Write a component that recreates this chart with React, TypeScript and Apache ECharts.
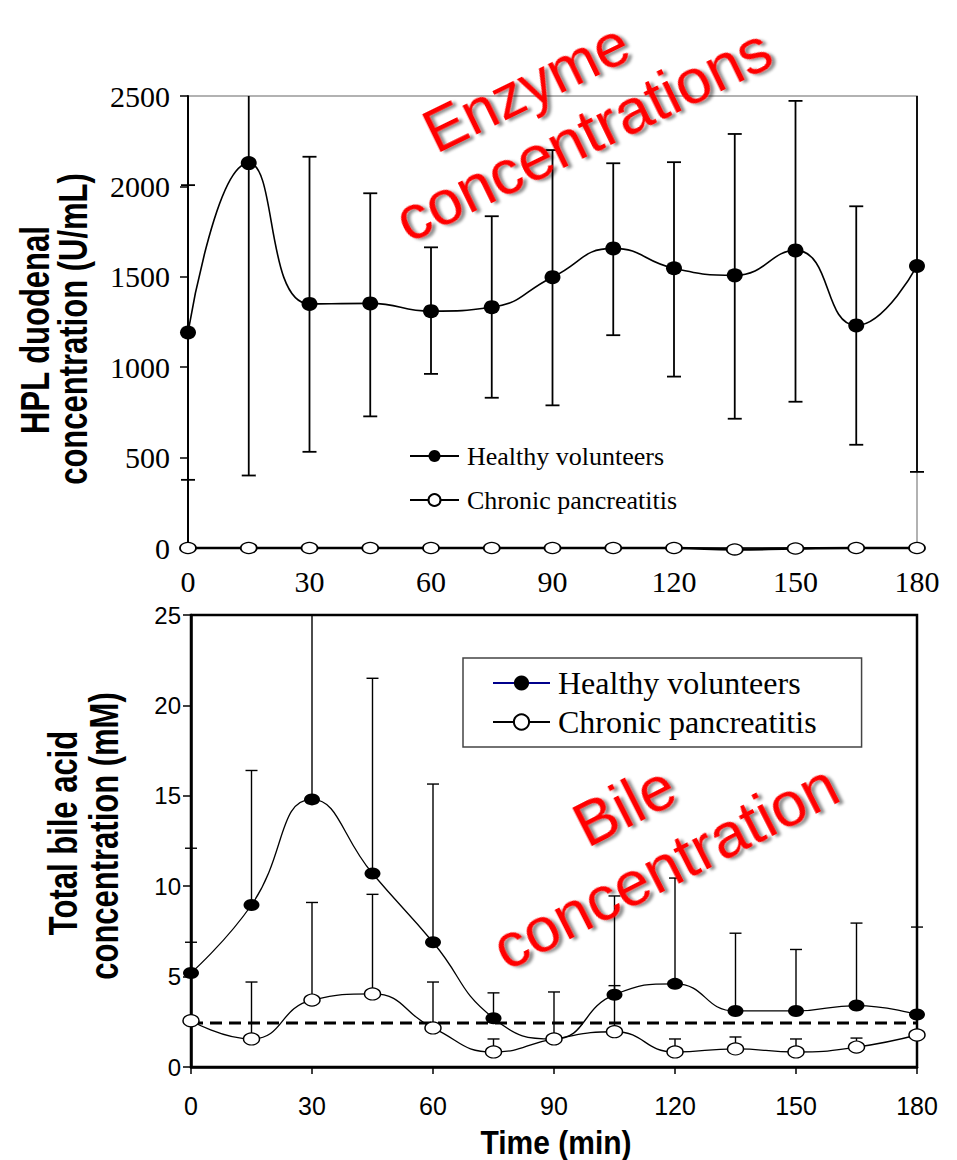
import { useEffect, useRef } from "react";
import * as echarts from "echarts";

// ---------- data ----------
const TIME = [0, 15, 30, 45, 60, 75, 90, 105, 120, 135, 150, 165, 180];

const HPL_MAX = 2500;
const HPL_HEALTHY = [1192, 2129, 1350, 1353, 1310, 1332, 1498, 1657, 1547, 1508, 1646, 1231, 1560];
const HPL_HEALTHY_LOW = [377, 401, 532, 728, 963, 831, 789, 1177, 948, 715, 809, 571, 421];
const HPL_HEALTHY_HIGH = [2007, 3857, 2164, 1962, 1663, 1835, 2201, 2128, 2134, 2290, 2473, 1890, 2700];
const HPL_PANCREATITIS = [0, 0, 0, 0, 0, 0, 0, 0, 0, -8, -3, 0, 0];

const BILE_MAX = 25;
const BILE_HEALTHY = [5.2, 8.96, 14.8, 10.7, 6.9, 2.7, 1.55, 4.0, 4.6, 3.1, 3.1, 3.4, 2.9];
const BILE_HEALTHY_HIGH = [12.1, 16.4, 25.4, 21.5, 15.65, 4.1, 4.15, 9.46, 10.45, 7.4, 6.5, 7.96, 7.74];
const BILE_PANCREATITIS = [2.56, 1.55, 3.7, 4.04, 2.16, 0.83, 1.55, 1.95, 0.83, 1.0, 0.83, 1.1, 1.77];
const BILE_PANCREATITIS_HIGH: (number | null)[] = [6.9, 4.7, 9.1, 9.55, 4.7, 1.55, null, 4.5, 1.55, 1.66, 1.55, 1.6, null];
const BILE_REFERENCE = 2.43;

const SERIES_NAMES = ["Healthy volunteers", "Chronic pancreatitis"];

// ---------- helpers ----------
const SERIF = "Liberation Serif";
const SANS = "Liberation Sans";

function pairs(xs: number[], ys: number[]) {
  return xs.map((x, i) => [x, ys[i]]);
}

function errRows(xs: number[], lo: number[], hi: (number | null)[]) {
  const out: number[][] = [];
  xs.forEach((x, i) => {
    const h = hi[i];
    if (h !== null && h !== undefined) out.push([x, lo[i], h]);
  });
  return out;
}

function errorBarRender(capHalf: number, capLow: boolean, yMax: number, width: number) {
  return (_params: any, api: any) => {
    const x = api.value(0);
    const lo = api.value(1);
    const hi = api.value(2);
    const clipped = hi > yMax;
    const pTop = api.coord([x, clipped ? yMax : hi]);
    const pBot = api.coord([x, lo]);
    const style = { stroke: "#000", lineWidth: width };
    const children: any[] = [
      { type: "line", shape: { x1: pBot[0], y1: pBot[1], x2: pTop[0], y2: pTop[1] }, style },
    ];
    if (!clipped) {
      children.push({
        type: "line",
        shape: { x1: pTop[0] - capHalf, y1: pTop[1], x2: pTop[0] + capHalf, y2: pTop[1] },
        style,
      });
    }
    if (capLow) {
      children.push({
        type: "line",
        shape: { x1: pBot[0] - capHalf, y1: pBot[1], x2: pBot[0] + capHalf, y2: pBot[1] },
        style,
      });
    }
    return { type: "group", children };
  };
}

const deg = (d: number) => (d * Math.PI) / 180;

function redText(text: string, x: number, y: number, rot: number, size = 63) {
  return {
    type: "text",
    x,
    y,
    rotation: deg(rot),
    z: 100,
    style: {
      text,
      fill: "#ff0000",
      font: `${size}px "${SANS}"`,
      align: "center",
      verticalAlign: "middle",
      textShadowColor: "rgba(0,0,0,0.45)",
      textShadowBlur: 3,
      textShadowOffsetX: 3,
      textShadowOffsetY: 3,
    },
  };
}

function vTitle(text: string, x: number, y: number) {
  return {
    type: "text",
    x,
    y,
    rotation: Math.PI / 2,
    scaleY: 1.3,
    z: 50,
    style: {
      text,
      fill: "#000",
      font: `bold 31px "${SANS}"`,
      align: "center",
      verticalAlign: "middle",
    },
  };
}

// ---------- option ----------
const option: any = {
  animation: false,
  backgroundColor: "#fff",
  grid: [
    { left: 188, top: 96, width: 729, height: 452, show: true, borderColor: "#999", borderWidth: 1.5 },
    { left: 191, top: 615, width: 726, height: 452, show: true, borderColor: "#000", borderWidth: 2.5 },
  ],
  xAxis: [
    {
      type: "value",
      gridIndex: 0,
      min: 0,
      max: 180,
      interval: 30,
      splitLine: { show: false },
      axisLine: { lineStyle: { color: "#000", width: 1.5 } },
      axisTick: { show: false },
      axisLabel: { margin: 18, fontFamily: SERIF, fontSize: 30, color: "#000" },
    },
    {
      type: "value",
      gridIndex: 1,
      min: 0,
      max: 180,
      interval: 30,
      splitLine: { show: false },
      axisLine: { lineStyle: { color: "#000", width: 2.5 } },
      axisTick: { show: true, length: 7, lineStyle: { color: "#000", width: 1.5 } },
      axisLabel: { margin: 26, fontFamily: SANS, fontSize: 25, color: "#000" },
    },
  ],
  yAxis: [
    {
      type: "value",
      gridIndex: 0,
      min: 0,
      max: HPL_MAX,
      interval: 500,
      splitLine: { show: false },
      axisLine: { show: true, lineStyle: { color: "#000", width: 2 } },
      axisTick: { show: true, length: 8, lineStyle: { color: "#000", width: 1.5 } },
      axisLabel: {
        margin: 18,
        fontFamily: SERIF,
        fontSize: 30,
        color: "#000",
        formatter: (v: number) => String(v),
      },
    },
    {
      type: "value",
      gridIndex: 1,
      min: 0,
      max: BILE_MAX,
      interval: 5,
      splitLine: { show: false },
      axisLine: { show: true, lineStyle: { color: "#000", width: 2.5 } },
      axisTick: { show: true, length: 8, lineStyle: { color: "#000", width: 1.5 } },
      axisLabel: { margin: 10, fontFamily: SANS, fontSize: 24, color: "#000" },
    },
  ],
  legend: [
    {
      orient: "vertical",
      left: 409,
      top: 443,
      padding: 0,
      itemWidth: 49,
      itemHeight: 15,
      itemGap: 18,
      selectedMode: false,
      data: SERIES_NAMES,
      textStyle: { fontFamily: SERIF, fontSize: 26, color: "#000", padding: [0, 0, 0, 3] },
    },
    {
      orient: "vertical",
      left: 463,
      top: 658,
      padding: [9, 45, 9, 29],
      itemWidth: 57,
      itemHeight: 19,
      itemGap: 7,
      borderColor: "#444",
      borderWidth: 1.5,
      selectedMode: false,
      data: [{ name: SERIES_NAMES[0], lineStyle: { color: "#00008b" } }, SERIES_NAMES[1]],
      textStyle: { fontFamily: SERIF, fontSize: 32, color: "#000", padding: [0, 0, 0, 3] },
    },
  ],
  series: [
    {
      type: "custom",
      name: "hpl-err",
      xAxisIndex: 0,
      yAxisIndex: 0,
      z: 2,
      renderItem: errorBarRender(7, true, HPL_MAX, 1.8),
      encode: { x: 0, y: [1, 2] },
      data: errRows(TIME, HPL_HEALTHY_LOW, HPL_HEALTHY_HIGH),
    },
    {
      type: "line",
      name: SERIES_NAMES[0],
      xAxisIndex: 0,
      yAxisIndex: 0,
      z: 3,
      smooth: 0.5,
      data: pairs(TIME, HPL_HEALTHY),
      symbol: "circle",
      symbolSize: [16, 14],
      itemStyle: { color: "#000", borderColor: "#000", borderWidth: 0 },
      lineStyle: { color: "#000", width: 1.6 },
    },
    {
      type: "line",
      name: SERIES_NAMES[1],
      xAxisIndex: 0,
      yAxisIndex: 0,
      z: 4,
      smooth: 0.5,
      clip: false,
      data: pairs(TIME, HPL_PANCREATITIS),
      symbol: "circle",
      symbolSize: [16, 11],
      itemStyle: { color: "#fff", borderColor: "#000", borderWidth: 1.5 },
      lineStyle: { color: "#000", width: 2.5 },
    },
    {
      type: "custom",
      name: "bile-err-hv",
      xAxisIndex: 1,
      yAxisIndex: 1,
      z: 2,
      renderItem: errorBarRender(6, false, BILE_MAX, 1.4),
      encode: { x: 0, y: [1, 2] },
      data: errRows(TIME, BILE_HEALTHY, BILE_HEALTHY_HIGH),
    },
    {
      type: "custom",
      name: "bile-err-cp",
      xAxisIndex: 1,
      yAxisIndex: 1,
      z: 2,
      renderItem: errorBarRender(6, false, BILE_MAX, 1.4),
      encode: { x: 0, y: [1, 2] },
      data: errRows(TIME, BILE_PANCREATITIS, BILE_PANCREATITIS_HIGH),
    },
    {
      type: "line",
      name: "reference",
      xAxisIndex: 1,
      yAxisIndex: 1,
      z: 2,
      symbol: "none",
      data: [
        [TIME[0], BILE_REFERENCE],
        [TIME[TIME.length - 1], BILE_REFERENCE],
      ],
      lineStyle: { color: "#000", width: 3, type: [12, 7] },
    },
    {
      type: "line",
      name: SERIES_NAMES[0],
      xAxisIndex: 1,
      yAxisIndex: 1,
      z: 3,
      smooth: 0.5,
      data: pairs(TIME, BILE_HEALTHY),
      symbol: "circle",
      symbolSize: [16, 12],
      itemStyle: { color: "#000", borderColor: "#000", borderWidth: 0 },
      lineStyle: { color: "#000", width: 1.3 },
    },
    {
      type: "line",
      name: SERIES_NAMES[1],
      xAxisIndex: 1,
      yAxisIndex: 1,
      z: 4,
      smooth: 0.5,
      data: pairs(TIME, BILE_PANCREATITIS),
      symbol: "circle",
      symbolSize: [16, 12],
      itemStyle: { color: "#fff", borderColor: "#000", borderWidth: 1.3 },
      lineStyle: { color: "#000", width: 1.3 },
    },
  ],
  graphic: [
    vTitle("HPL duodenal", 35, 330),
    vTitle("concentration (U/mL)", 73, 329),
    vTitle("Total bile acid", 63, 833),
    vTitle("concentration (mM)", 104, 836),
    {
      type: "text",
      x: 556,
      y: 1142,
      scaleY: 1.1,
      z: 50,
      style: {
        text: "Time (min)",
        fill: "#000",
        font: `bold 30px "${SANS}"`,
        align: "center",
        verticalAlign: "middle",
      },
    },
    redText("Enzyme", 526, 87, 26, 61),
    redText("concentrations", 583, 134, 26),
    redText("Bile", 624, 805, 27),
    redText("concentration", 665, 866, 27),
  ],
};

export default function App() {
  const ref = useRef<HTMLDivElement>(null);
  useEffect(() => {
    if (!ref.current) return;
    const chart = echarts.init(ref.current, undefined, { renderer: "svg" });
    chart.setOption(option);
    return () => chart.dispose();
  }, []);
  return (
    <div
      ref={ref}
      style={{ position: "absolute", left: 0, top: 0, width: 957, height: 1160, background: "#fff" }}
    />
  );
}
